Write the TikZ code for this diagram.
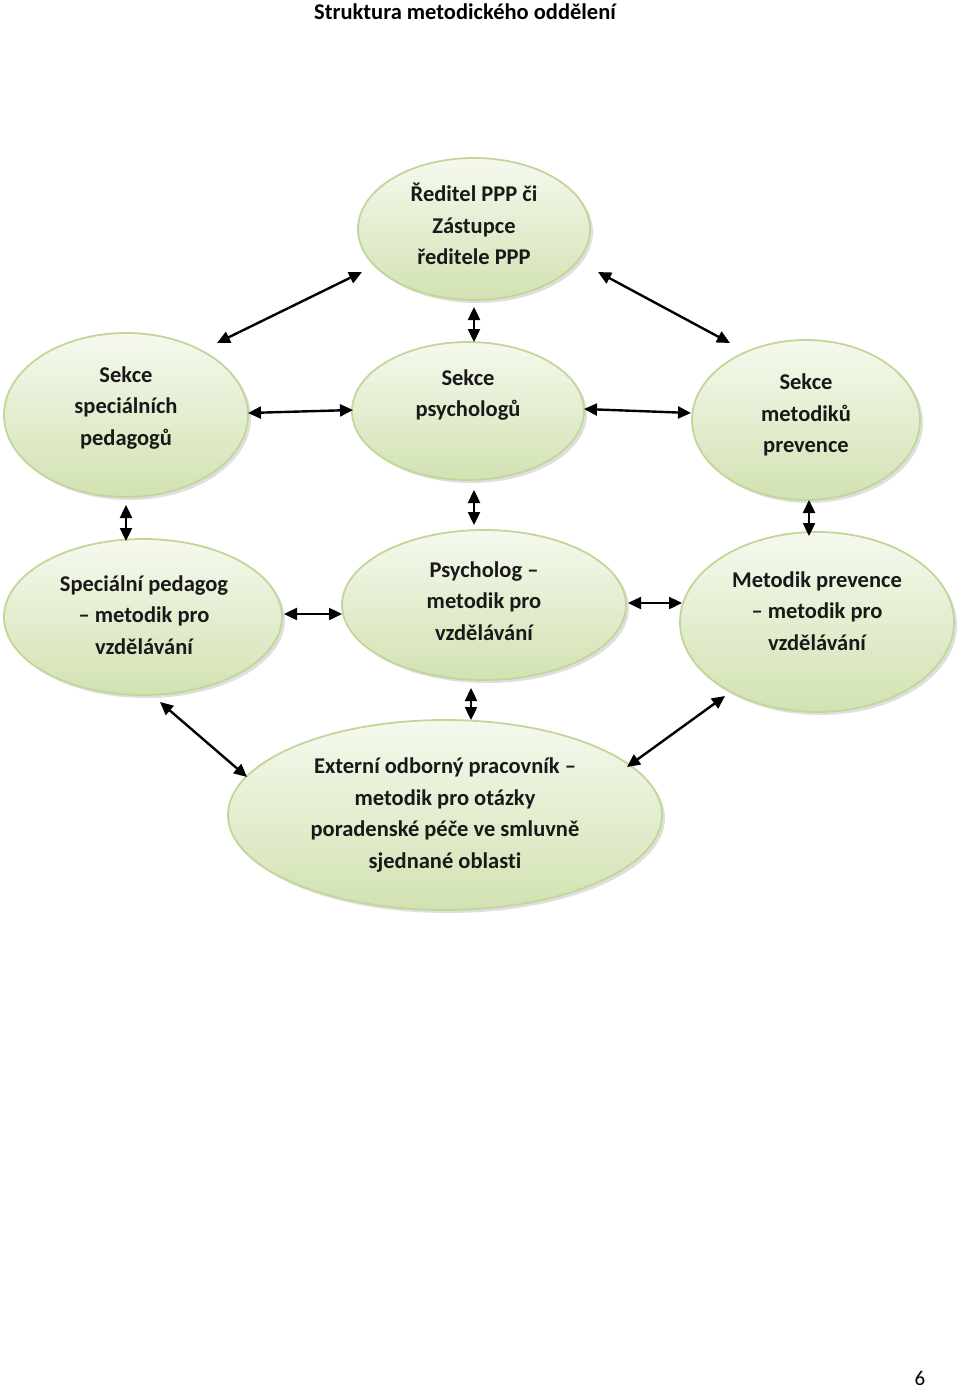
\documentclass[tikz,border=0pt]{standalone}
\usepackage{fontspec}
\setmainfont[Ligatures=NoCommon]{Carlito}
\usetikzlibrary{shapes.geometric,arrows.meta,shadows}
\definecolor{ebord}{HTML}{C2D69A}
\definecolor{etop}{HTML}{F5F9EE}
\definecolor{ebot}{HTML}{D2E2B2}
\begin{document}
\begin{tikzpicture}[x=1pt,y=-1pt,
  ell/.style={ellipse, draw=ebord, line width=1.8pt, top color=etop, bottom color=ebot,
    drop shadow={shadow xshift=3pt,shadow yshift=-3pt,opacity=0.25}, inner sep=0pt},
  lbl/.style={font=\fontsize{22.5}{31.5}\selectfont\bfseries, align=center, text=black!90},
  dbl/.style={{Triangle[length=13pt,width=12pt]}-{Triangle[length=13pt,width=12pt]}, line width=2.4pt}]
\useasboundingbox[fill=white] (0,0) rectangle (960,1392);

\node[font=\fontsize{22.5}{26}\selectfont\bfseries] (title) at (465,12) {Struktura metodického oddělení};
\node[font=\fontsize{21}{24}\selectfont, inner sep=0pt, anchor=base] (page) at (920,1385) {6};

% ellipses
\node[ell, minimum width=232pt, minimum height=142pt] (e1) at (474,229) {};
\node[ell, minimum width=244pt, minimum height=164pt] (e2) at (126,415) {};
\node[ell, minimum width=232pt, minimum height=138pt] (e3) at (468,411) {};
\node[ell, minimum width=228pt, minimum height=160pt] (e4) at (806,420) {};
\node[ell, minimum width=278pt, minimum height=156pt] (e5) at (143,617) {};
\node[ell, minimum width=284pt, minimum height=150pt] (e6) at (484,605) {};
\node[ell, minimum width=274pt, minimum height=180pt] (e7) at (817,622) {};
\node[ell, minimum width=434pt, minimum height=190pt] (e8) at (445,815) {};

% texts
\node[lbl] (t1) at (474,224) {Ředitel PPP či\\Zástupce\\ředitele PPP};
\node[lbl] (t2) at (126,408) {Sekce\\speciálních\\pedagogů};
\node[lbl] (t3) at (468,395) {Sekce\\psychologů};
\node[lbl] (t4) at (806,415) {Sekce\\metodiků\\prevence};
\node[lbl] (t5) at (144,615) {Speciální pedagog\\– metodik pro\\vzdělávání};
\node[lbl] (t6) at (484,601) {Psycholog –\\metodik pro\\vzdělávání};
\node[lbl] (t7) at (817,611) {Metodik prevence\\– metodik pro\\vzdělávání};
\node[lbl] (t8) at (445,815) {Externí odborný pracovník –\\metodik pro otázky\\poradenské péče ve smluvně\\sjednané oblasti};

% arrow end points
\coordinate (a1) at (217,343); \coordinate (a2) at (362,272);
\coordinate (b1) at (248,413); \coordinate (b2) at (353,410);
\coordinate (c1) at (598,272); \coordinate (c2) at (730,343);
\coordinate (d1) at (584,409); \coordinate (d2) at (691,413);
\coordinate (f1) at (474,307); \coordinate (f2) at (474,342);
\coordinate (g1) at (126,505); \coordinate (g2) at (126,541);
\coordinate (h1) at (474,490); \coordinate (h2) at (474,525);
\coordinate (i1) at (809,500); \coordinate (i2) at (809,536);
\coordinate (j1) at (284,614); \coordinate (j2) at (342,614);
\coordinate (k1) at (628,603); \coordinate (k2) at (682,603);
\coordinate (l1) at (160,702); \coordinate (l2) at (247,777);
\coordinate (m1) at (471,688); \coordinate (m2) at (471,720);
\coordinate (n1) at (725,696); \coordinate (n2) at (627,767);

\foreach \p in {a,b,c,d,f,g,h,i,j,k,l,m,n}
  \draw[dbl] (\p1) -- (\p2);
\end{tikzpicture}
\end{document}
